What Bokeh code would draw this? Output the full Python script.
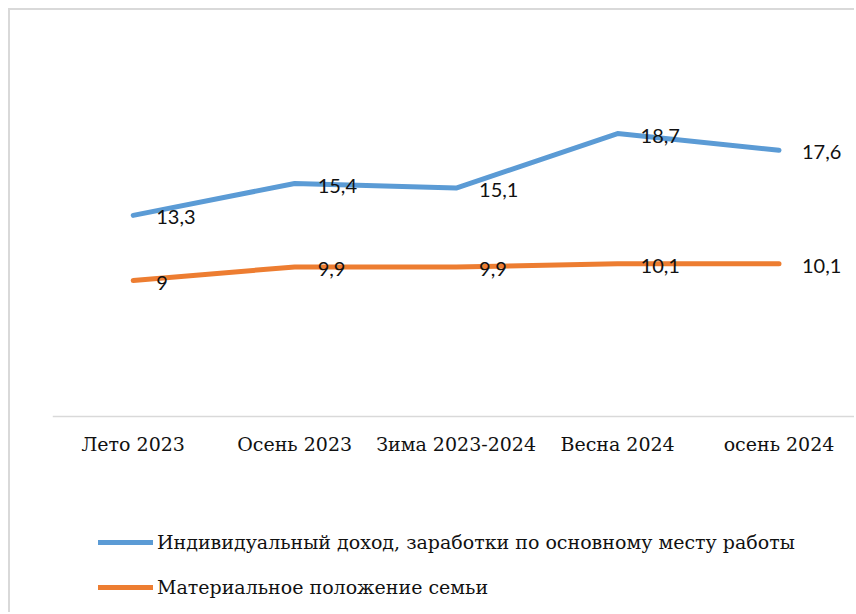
from bokeh.plotting import figure
from bokeh.models import Range1d, Legend, LegendItem, FixedTicker, ColumnDataSource
from bokeh.core.properties import value
from bokeh.embed import file_html
from bokeh.resources import INLINE

categories = ["Лето 2023", "Осень 2023", "Зима 2023-2024", "Весна 2024", "осень 2024"]
income = [13.3, 15.4, 15.1, 18.7, 17.6]
family = [9.0, 9.9, 9.9, 10.1, 10.1]
income_name = "Индивидуальный доход, заработки по основному месту работы"
family_name = "Материальное положение семьи"

BLUE = "#5B9BD5"
ORANGE = "#ED7D31"
SERIF = "DejaVu Serif"
SANS = "Lato"

xs = list(range(len(categories)))

def fmt(v):
    s = ("%.1f" % v).rstrip("0").rstrip(".")
    return s.replace(".", ",")

p = figure(width=846, height=604, output_backend="svg", toolbar_location=None,
           x_range=Range1d(-0.5, 4.48), y_range=Range1d(-13.04, 25.5),
           min_border_left=42, min_border_right=0, min_border_top=20, min_border_bottom=0)
p.styles = {"margin-left": "8px", "margin-top": "8px",
            "border-top": "2px solid #d9d9d9", "border-left": "2px solid #d9d9d9"}
p.outline_line_color = None
p.xgrid.visible = False
p.ygrid.visible = False
p.yaxis.visible = False

src_i = ColumnDataSource(dict(x=xs, y=income, t=[fmt(v) for v in income]))
src_f = ColumnDataSource(dict(x=xs, y=family, t=[fmt(v) for v in family]))

r_i = p.line("x", "y", source=src_i, line_color=BLUE, line_width=5, line_cap="round", line_join="round")
r_f = p.line("x", "y", source=src_f, line_color=ORANGE, line_width=5, line_cap="round", line_join="round")

for src in (src_i, src_f):
    p.text("x", "y", text="t", source=src, x_offset=23, y_offset=2,
           text_baseline="middle", text_align="left", text_font=value(SANS),
           text_font_size="20px", text_color="#111111")

ax = p.xaxis[0]
ax.fixed_location = 0
ax.ticker = FixedTicker(ticks=xs)
ax.major_label_overrides = {i: c for i, c in zip(xs, categories)}
ax.axis_line_color = "#d9d9d9"
ax.axis_line_width = 1.5
ax.major_tick_line_color = None
ax.minor_tick_line_color = None
ax.major_label_text_font = SERIF
ax.major_label_text_font_size = "19px"
ax.major_label_text_color = "#111111"
ax.major_label_standoff = 10

legend = Legend(items=[LegendItem(label=income_name, renderers=[r_i]),
                       LegendItem(label=family_name, renderers=[r_f])],
                location=(46, 16), orientation="vertical",
                glyph_width=55, glyph_height=20, label_height=20, spacing=23,
                padding=0, margin=0, label_standoff=4,
                label_text_font=SERIF, label_text_font_size="19px", label_text_color="#111111",
                border_line_color=None, background_fill_alpha=0)
p.add_layout(legend, "center")

open("out.html", "w").write(file_html(p, INLINE))
